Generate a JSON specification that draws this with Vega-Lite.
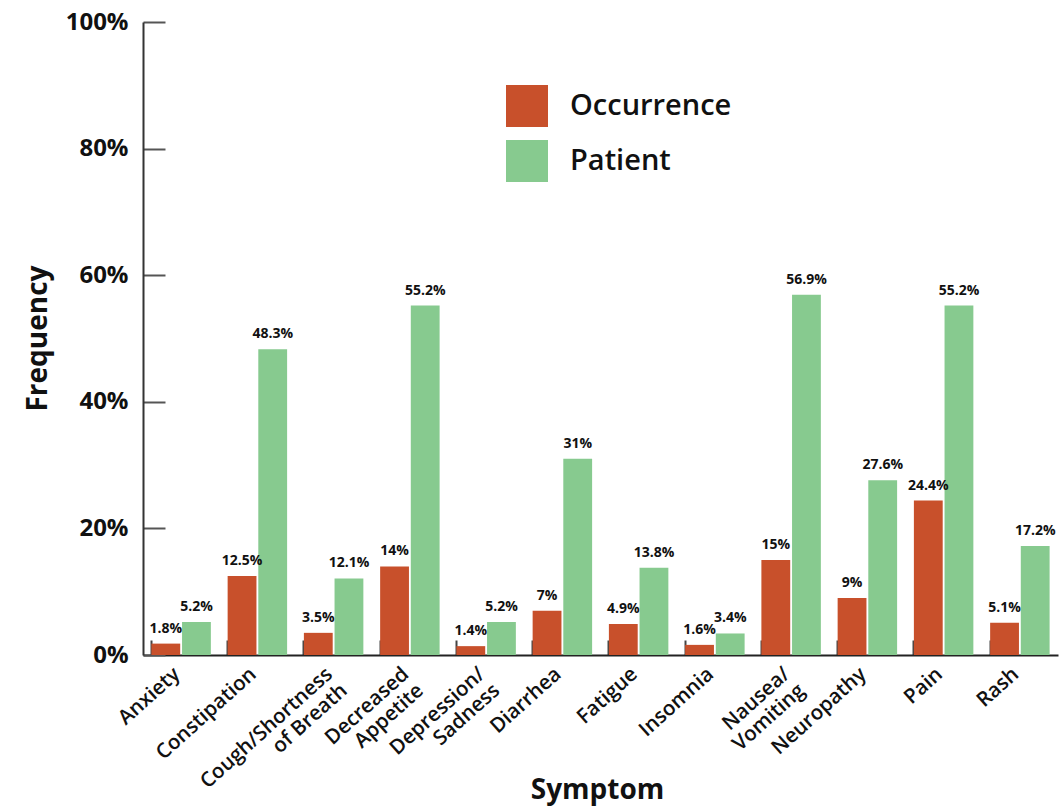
{
  "$schema": "https://vega.github.io/schema/vega-lite/v6.json",
  "width": 915,
  "height": 633,
  "autosize": {"type": "none"},
  "padding": {"left": 143, "top": 22, "right": 3, "bottom": 154},
  "background": "white",
  "config": {
    "view": {"stroke": null},
    "font": "Open Sans"
  },
  "data": {
    "values": [
      {"symptom": "Anxiety", "series": "Occurrence", "value": 0.018},
      {"symptom": "Anxiety", "series": "Patient", "value": 0.052},
      {"symptom": "Constipation", "series": "Occurrence", "value": 0.125},
      {"symptom": "Constipation", "series": "Patient", "value": 0.483},
      {"symptom": "Cough/Shortness\nof Breath", "series": "Occurrence", "value": 0.035},
      {"symptom": "Cough/Shortness\nof Breath", "series": "Patient", "value": 0.121},
      {"symptom": "Decreased\nAppetite", "series": "Occurrence", "value": 0.14},
      {"symptom": "Decreased\nAppetite", "series": "Patient", "value": 0.552},
      {"symptom": "Depression/\nSadness", "series": "Occurrence", "value": 0.014},
      {"symptom": "Depression/\nSadness", "series": "Patient", "value": 0.052},
      {"symptom": "Diarrhea", "series": "Occurrence", "value": 0.07},
      {"symptom": "Diarrhea", "series": "Patient", "value": 0.31},
      {"symptom": "Fatigue", "series": "Occurrence", "value": 0.049},
      {"symptom": "Fatigue", "series": "Patient", "value": 0.138},
      {"symptom": "Insomnia", "series": "Occurrence", "value": 0.016},
      {"symptom": "Insomnia", "series": "Patient", "value": 0.034},
      {"symptom": "Nausea/\nVomiting", "series": "Occurrence", "value": 0.15},
      {"symptom": "Nausea/\nVomiting", "series": "Patient", "value": 0.569},
      {"symptom": "Neuropathy", "series": "Occurrence", "value": 0.09},
      {"symptom": "Neuropathy", "series": "Patient", "value": 0.276},
      {"symptom": "Pain", "series": "Occurrence", "value": 0.244},
      {"symptom": "Pain", "series": "Patient", "value": 0.552},
      {"symptom": "Rash", "series": "Occurrence", "value": 0.051},
      {"symptom": "Rash", "series": "Patient", "value": 0.172}
    ]
  },
  "encoding": {
    "x": {
      "field": "symptom",
      "type": "nominal",
      "sort": null,
      "scale": {"paddingInner": 0.22, "paddingOuter": 0.11},
      "axis": {
        "title": "Symptom",
        "titleFont": "Open Sans",
        "titleFontSize": 28,
        "titleFontWeight": "bold",
        "titleColor": "#111",
        "titleX": 454,
        "titleY": 135,
        "titleBaseline": "middle",
        "titleAlign": "center",
        "labelExpr": "split(datum.label, '\\n')",
        "labelAngle": -42,
        "labelAlign": "right",
        "labelBaseline": "middle",
        "labelFont": "Open Sans",
        "labelFontSize": 20.5,
        "labelFontWeight": 600,
        "labelColor": "#111",
        "labelLineHeight": 22,
        "labelPadding": 31,
        "labelOffset": -4,
        "labelLimit": 400,
        "bandPosition": 0,
        "tickSize": -15,
        "tickColor": "#444",
        "tickWidth": 2,
        "domainColor": "#222",
        "domainWidth": 2
      }
    },
    "y": {
      "field": "value",
      "type": "quantitative",
      "scale": {"domain": [0, 1]},
      "axis": {
        "title": "Frequency",
        "titleFont": "Open Sans",
        "titleFontSize": 28,
        "titleFontWeight": "bold",
        "titleColor": "#111",
        "titleX": -105,
        "titleY": 316,
        "titleAngle": -90,
        "titleAlign": "center",
        "titleBaseline": "middle",
        "values": [0, 0.2, 0.4, 0.6, 0.8, 1],
        "format": ".0%",
        "grid": false,
        "labelFont": "Open Sans",
        "labelFontSize": 24,
        "labelFontWeight": "bold",
        "labelColor": "#111",
        "labelPadding": 37,
        "tickSize": -22,
        "tickColor": "#555",
        "tickWidth": 2,
        "domainColor": "#333",
        "domainWidth": 2
      }
    },
    "xOffset": {"field": "series", "type": "nominal", "scale": {"paddingInner": 0.06}}
  },
  "layer": [
    {
      "mark": {"type": "bar"},
      "encoding": {
        "color": {
          "field": "series",
          "type": "nominal",
          "scale": {"domain": ["Occurrence", "Patient"], "range": ["#C8502B", "#87CA8F"]},
          "legend": {
            "title": null,
            "orient": "none",
            "legendX": 363,
            "legendY": 63,
            "symbolType": "square",
            "symbolSize": 1764,
            "symbolStrokeWidth": 0,
            "symbolOpacity": 1,
            "rowPadding": 13,
            "labelFont": "Open Sans",
            "labelFontSize": 29,
            "labelFontWeight": 600,
            "labelColor": "#111",
            "labelOffset": 22,
            "labelLimit": 400
          }
        }
      }
    },
    {
      "mark": {"type": "text", "dy": -8, "font": "Open Sans", "fontSize": 14, "fontWeight": "bold", "color": "#111", "baseline": "bottom"},
      "encoding": {
        "text": {"field": "value", "type": "quantitative", "format": ".1~%"}
      }
    }
  ]
}
